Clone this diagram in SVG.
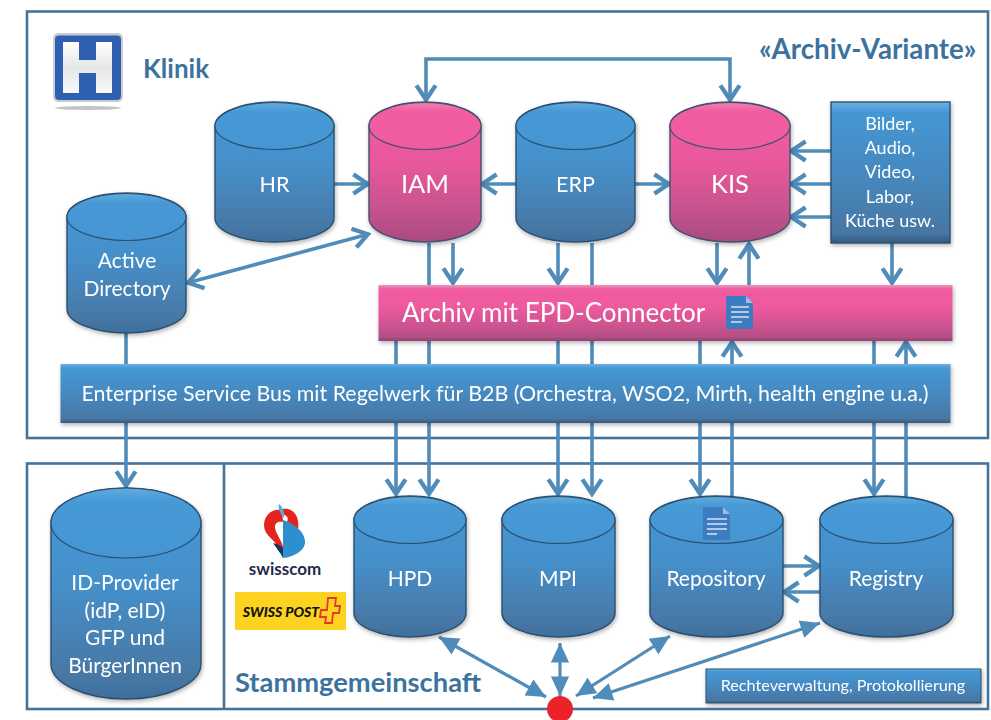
<svg xmlns="http://www.w3.org/2000/svg" width="991" height="720" viewBox="0 0 991 720">
<style>
text{font-family:Lato,"Open Sans","Liberation Sans",sans-serif;text-anchor:middle;fill:#fff}
.frame{fill:none;stroke:#44749c;stroke-width:2.6}
.title{fill:#3c729e;font-weight:700;text-anchor:start}
.body-b{fill:url(#blue);stroke:#2b506f;stroke-width:1.4}
.top-b{fill:url(#blueTop);stroke:#2b506f;stroke-width:1.2}
.body-p{fill:url(#pink);stroke:#44506f;stroke-width:1.4}
.top-p{fill:url(#pinkTop);stroke:#44506f;stroke-width:1.2}
.c{fill:none;stroke:#4f8cb9;stroke-width:3.6}
.a{marker-end:url(#v)}
.aa{marker-start:url(#v);marker-end:url(#v)}
.s{stroke-width:3.2;marker-start:url(#t);marker-end:url(#t)}
.n{filter:url(#sh)}
.t21{font-size:21px}
.t22{font-size:21.500px}
</style>
<defs>
<linearGradient id="blue" x1="0" y1="0" x2="0" y2="1"><stop offset="0" stop-color="#4597d4"/><stop offset=".45" stop-color="#4590cb"/><stop offset=".9" stop-color="#4777a4"/><stop offset="1" stop-color="#3d6f9c"/></linearGradient>
<linearGradient id="bar" x1="0" y1="0" x2="0" y2="1"><stop offset="0" stop-color="#6fb2e0"/><stop offset=".07" stop-color="#4597d4"/><stop offset=".5" stop-color="#4589c0"/><stop offset=".93" stop-color="#4777a4"/><stop offset="1" stop-color="#35597c"/></linearGradient>
<linearGradient id="barP" x1="0" y1="0" x2="0" y2="1"><stop offset="0" stop-color="#e79ac0"/><stop offset=".07" stop-color="#f25ba1"/><stop offset=".4" stop-color="#ee5a9e"/><stop offset=".92" stop-color="#b74f87"/><stop offset="1" stop-color="#8c4470"/></linearGradient>
<linearGradient id="blueTop" x1="0" y1="0" x2="0" y2="1"><stop offset="0" stop-color="#62abde"/><stop offset=".2" stop-color="#4699d6"/><stop offset="1" stop-color="#4596d2"/></linearGradient>
<linearGradient id="pink" x1="0" y1="0" x2="0" y2="1"><stop offset="0" stop-color="#f25ba1"/><stop offset=".45" stop-color="#e8599b"/><stop offset=".9" stop-color="#b74f87"/><stop offset="1" stop-color="#a84a7e"/></linearGradient>
<linearGradient id="pinkTop" x1="0" y1="0" x2="0" y2="1"><stop offset="0" stop-color="#ef7fb0"/><stop offset=".2" stop-color="#f25ba1"/><stop offset="1" stop-color="#f15ca0"/></linearGradient>
<linearGradient id="hw" x1="0" y1="0" x2="0" y2="1"><stop offset="0" stop-color="#fff"/><stop offset=".5" stop-color="#e4e6e8"/><stop offset="1" stop-color="#fafafa"/></linearGradient>
<filter id="sh" x="-10%" y="-10%" width="120%" height="125%"><feDropShadow dx="1" dy="2" stdDeviation="2" flood-color="#000" flood-opacity=".3"/></filter>
<marker id="v" markerUnits="userSpaceOnUse" markerWidth="24" markerHeight="24" refX="17" refY="10" viewBox="0 0 20 20" orient="auto-start-reverse"><path d="M4 2 L16 10 L4 18" fill="none" stroke="#4f8cb9" stroke-width="3.6"/></marker>
<marker id="t" markerUnits="userSpaceOnUse" markerWidth="26" markerHeight="26" refX="18" refY="10" viewBox="0 0 20 20" orient="auto-start-reverse"><path d="M3 3 L18 10 L3 17 Z" fill="#4f8cb9"/></marker>
</defs>
<rect width="991" height="720" fill="#fff"/>

<g id="frames">
<rect class="frame" x="27" y="11.500" width="961" height="426.500"/>
<rect class="frame" x="27" y="463.500" width="961" height="245.500"/>
<path class="frame" d="M224 463.500V709"/>
</g>

<g id="connectors">
<path class="c aa" d="M426 101V59H730V101"/>
<path class="c a" d="M334 184H369"/>
<path class="c a" d="M516 184H481"/>
<path class="c a" d="M635 184H670"/>
<path class="c a" d="M831 151H790"/>
<path class="c a" d="M831 184H790"/>
<path class="c a" d="M831 217H790"/>
<path class="c aa" d="M187 283L369 234"/>
<path class="c" d="M429 243V285"/>
<path class="c a" d="M453 243V284"/>
<path class="c a" d="M558 243V284"/>
<path class="c" d="M592 243V285"/>
<path class="c a" d="M717 243V284"/>
<path class="c a" d="M749 285V243"/>
<path class="c a" d="M892 243V284"/>
<path class="c" d="M396 341V364"/>
<path class="c" d="M429 341V364"/>
<path class="c" d="M558 341V364"/>
<path class="c" d="M592 341V364"/>
<path class="c" d="M700 341V364"/>
<path class="c a" d="M732 364V341"/>
<path class="c" d="M874 341V364"/>
<path class="c a" d="M906 364V341"/>
<path class="c" d="M126 333V364"/>
<path class="c a" d="M126 423V487"/>
<path class="c a" d="M396 423V495"/>
<path class="c a" d="M429 423V495"/>
<path class="c a" d="M558 423V495"/>
<path class="c a" d="M592 423V495"/>
<path class="c a" d="M700 423V495"/>
<path class="c" d="M732 423V497"/>
<path class="c a" d="M874 423V495"/>
<path class="c" d="M906 423V497"/>
<path class="c a" d="M783 566H820"/>
<path class="c a" d="M820 592H783"/>
<path class="c s" d="M546 697L439 637"/>
<path class="c s" d="M560 696V643"/>
<path class="c s" d="M576 696L670 636"/>
<path class="c s" d="M593 698L820 623"/>
</g>

<g id="node-logo-h">
<rect x="53" y="33" width="70" height="69" rx="5" fill="#c9ccce"/>
<rect x="55" y="35.500" width="66" height="64.500" rx="4" fill="#2f5fb0"/>
<path d="M63 42H79V60H96V42H112V93H96V73H79V93H63Z" fill="url(#hw)"/>
<ellipse cx="88" cy="108" rx="33" ry="2" fill="#c4c4c4"/>
</g>
<text class="title" x="143" y="78" font-size="26">Klinik</text>
<text class="title" x="759" y="59" font-size="27.700" id="variant">«Archiv-Variante»</text>

<g id="node-hr" class="n"><path class="body-b" d="M215 126A59.500 24 0 0 1 334 126V218A59.500 24 0 0 1 215 218Z"/><ellipse class="top-b" cx="274.500" cy="126" rx="59.500" ry="23.500"/><text class="t22" x="274.500" y="192">HR</text></g>
<g id="node-iam" class="n"><path class="body-p" d="M369 126A56 24 0 0 1 481 126V218A56 24 0 0 1 369 218Z"/><ellipse class="top-p" cx="425" cy="126" rx="56" ry="23.500"/><text x="425" y="193" font-size="25.500">IAM</text></g>
<g id="node-erp" class="n"><path class="body-b" d="M516 126A59.500 24 0 0 1 635 126V218A59.500 24 0 0 1 516 218Z"/><ellipse class="top-b" cx="575.500" cy="126" rx="59.500" ry="23.500"/><text class="t22" x="575.500" y="192">ERP</text></g>
<g id="node-kis" class="n"><path class="body-p" d="M670 126A60 24 0 0 1 790 126V218A60 24 0 0 1 670 218Z"/><ellipse class="top-p" cx="730" cy="126" rx="60" ry="23.500"/><text x="730" y="193" font-size="25.500">KIS</text></g>
<g id="node-sources" class="n"><rect x="831" y="102" width="119" height="141" fill="url(#bar)" stroke="#2b506f" stroke-width="1.400"/>
<g font-size="18"><text x="890" y="130">Bilder,</text><text x="890" y="154">Audio,</text><text x="890" y="178">Video,</text><text x="890" y="203">Labor,</text><text x="890" y="227">Küche usw.</text></g></g>
<g id="node-ad" class="n"><path class="body-b" d="M67 217A59.500 24 0 0 1 186 217V309A59.500 24 0 0 1 67 309Z"/><ellipse class="top-b" cx="126.500" cy="217" rx="59.500" ry="23.500"/><text class="t21" x="127" y="268">Active</text><text class="t21" x="127" y="296">Directory</text></g>

<g id="node-archiv" class="n"><rect x="378.500" y="285" width="574" height="56" fill="url(#barP)"/>
<text x="402" y="322" font-size="26" style="text-anchor:start">Archiv mit EPD-Connector</text>
<path d="M726 296H746L753 303V329H726Z" fill="#3c7cc0"/><path d="M746 296L753 303H746Z" fill="#9dbde0"/><path d="M731 307H749M731 312H749M731 317H749M731 322H742" stroke="#d5e4f3" stroke-width="1.500" fill="none"/></g>

<g id="node-esb" class="n"><rect x="60.500" y="364" width="890" height="59" fill="url(#bar)"/>
<text x="505" y="401" font-size="21.400">Enterprise Service Bus mit Regelwerk für B2B (Orchestra, WSO2, Mirth, health engine u.a.)</text></g>

<g id="node-idp" class="n"><path class="body-b" d="M51 523A75 35 0 0 1 201 523V664A75 35 0 0 1 51 664Z"/><ellipse class="top-b" cx="126" cy="523" rx="75" ry="35"/>
<text class="t21" x="125" y="590">ID-Provider</text><text class="t21" x="125" y="618">(idP, eID)</text><text class="t21" x="125" y="645">GFP und</text><text class="t21" x="125" y="673">BürgerInnen</text></g>
<g id="node-hpd" class="n"><path class="body-b" d="M354 520A56 24 0 0 1 466 520V613A56 24 0 0 1 354 613Z"/><ellipse class="top-b" cx="410" cy="520" rx="56" ry="23.500"/><text class="t21" x="410" y="586">HPD</text></g>
<g id="node-mpi" class="n"><path class="body-b" d="M502 520A56.500 24 0 0 1 615 520V613A56.500 24 0 0 1 502 613Z"/><ellipse class="top-b" cx="558.500" cy="520" rx="56.500" ry="23.500"/><text class="t21" x="558" y="586">MPI</text></g>
<g id="node-repository" class="n"><path class="body-b" d="M650 520A66.500 24 0 0 1 783 520V613A66.500 24 0 0 1 650 613Z"/><ellipse class="top-b" cx="716.500" cy="520" rx="66.500" ry="23.500"/><text class="t21" x="716" y="586">Repository</text>
<path d="M703 507H723L730 514V540H703Z" fill="#3c7cc0"/><path d="M723 507L730 514H723Z" fill="#9dbde0"/><path d="M707 519H727M707 524H727M707 529H727M707 534H717" stroke="#d5e4f3" stroke-width="1.500" fill="none"/></g>
<g id="node-registry" class="n"><path class="body-b" d="M820 520A66.500 24 0 0 1 953 520V613A66.500 24 0 0 1 820 613Z"/><ellipse class="top-b" cx="886.500" cy="520" rx="66.500" ry="23.500"/><text class="t21" x="886" y="586">Registry</text></g>
<g id="node-rights" class="n"><rect x="706" y="669" width="275" height="34" fill="url(#bar)" stroke="#2b506f"/><text x="843" y="691" font-size="16.200">Rechteverwaltung, Protokollierung</text></g>

<g id="node-swisscom">
<path d="M282 510C271 508 264 516 264 525C264 534 272 538 276 544L284 552C283 540 275 534 275 527C275 522 279 521 283 522Z" fill="#e52420"/>
<path d="M282 509C294 507 300 517 298 530L287 522C289 518 287 515 282 514Z" fill="#e52420"/>
<path d="M283 520C290 522 305 530 305 542C305 551 293 557 283 558Z" fill="#2d8fce"/>
<path d="M283 530V558C280 552 276 548 273 543C278 544 282 546 283 549Z" fill="#14365f"/>
<path d="M279 504C282 506 285 512 284 518L281 514C279 510 278 507 279 504Z" fill="#4fb0e0"/>
<text x="285" y="575" font-size="17" font-weight="700" style="fill:#1f2a4c">swisscom</text>
</g>
<g id="node-swisspost">
<rect x="235" y="592" width="111" height="38" fill="#fdd320"/>
<text x="281" y="617" font-size="14" font-weight="900" font-style="italic" style="fill:#111">SWISS POST</text>
<path d="M328 598H336L335 606H340L339 613H333L332 623H325L326 617H320L321 610H327Z" fill="none" stroke="#e5382a" stroke-width="1.800"/>
</g>
<text class="title" x="235" y="692" font-size="27.300">Stammgemeinschaft</text>
<circle id="node-dot" cx="560" cy="709" r="13" fill="#ea2328"/>
</svg>
